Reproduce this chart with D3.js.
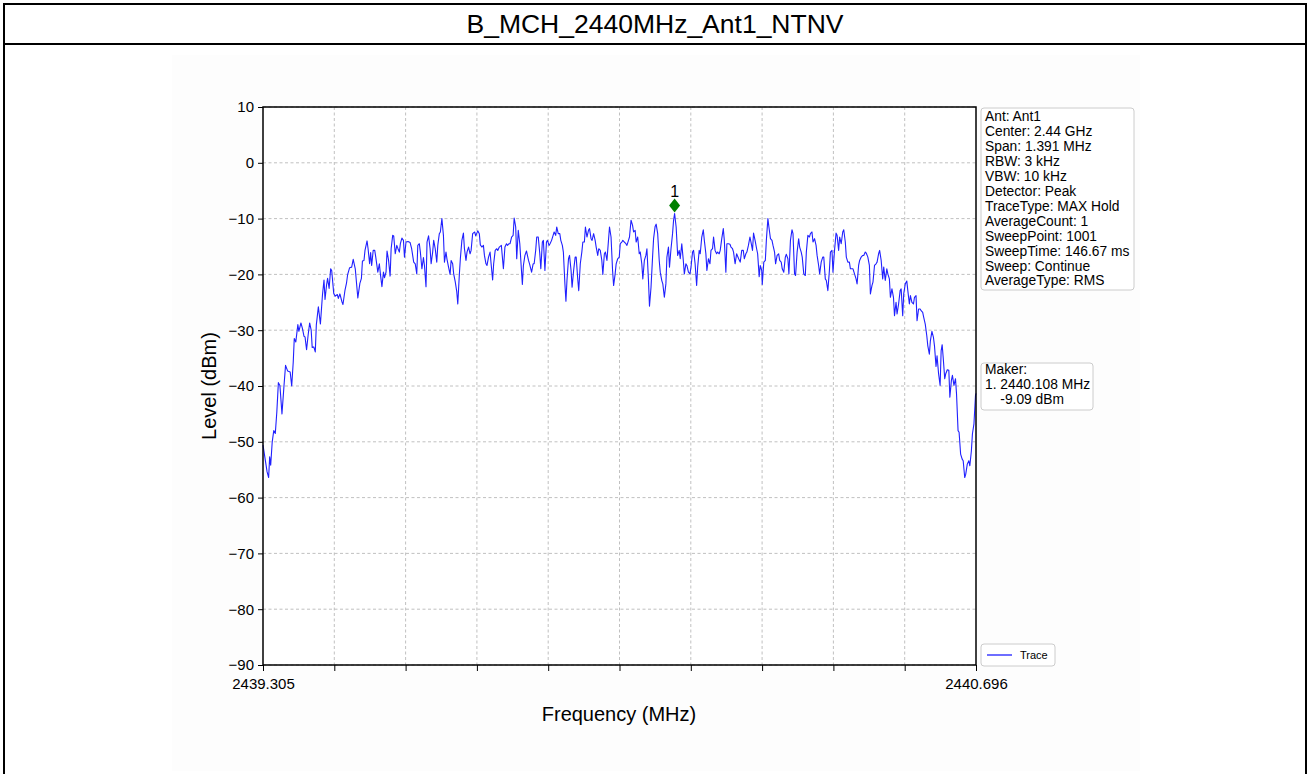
<!DOCTYPE html>
<html><head><meta charset="utf-8">
<script src="https://cdn.jsdelivr.net/npm/d3@7"></script>
<style>
body{margin:0;background:#fff;}
svg{display:block;font-family:"Liberation Sans",Arial,Helvetica,sans-serif;}
</style>
</head><body>
<svg id="chart" width="1310" height="774"></svg>
<script>
// ---------- data ----------
const chartTitle = "B_MCH_2440MHz_Ant1_NTNV";
const startMHz = 2439.305;
const stopMHz = 2440.696;
const xTickCount = 11;                 // tick marks along the frequency axis
const xTickLabels = ["2439.305", "2440.696"];
const yTicks = [10, 0, -10, -20, -30, -40, -50, -60, -70, -80, -90];
const yDomain = [-90, 10];
const xLabel = "Frequency (MHz)";
const yLabel = "Level (dBm)";

// trace vertices: [offset from start (kHz), level (dBm)]
const trace = [
[0,-50.6],[5,-53.6],[8,-55.4],[11,-56.4],[13,-52.7],[15,-54.2],[18,-50.0],[21,-48.0],[24,-48.5],[27,-44.6],
[30,-39.4],[33,-39.9],[37,-45.0],[41,-39.9],[44,-36.3],[48,-37.3],[53,-37.5],[56,-40.0],[59,-35.7],[61,-31.5],
[64,-32.1],[68,-29.0],[70,-30.2],[74,-28.7],[77,-29.7],[80,-31.1],[82,-31.2],[85,-33.5],[88,-30.9],[91,-28.7],
[94,-30.0],[96,-33.1],[99,-33.0],[102,-33.9],[104,-29.1],[108,-25.8],[112,-28.9],[116,-23.7],[119,-21.0],[121,-24.5],
[124,-21.9],[126,-20.7],[129,-22.5],[132,-19.0],[134,-19.3],[138,-23.4],[141,-23.9],[145,-23.6],[147,-24.3],[150,-23.5],
[154,-24.9],[156,-25.4],[160,-22.8],[163,-21.5],[165,-20.1],[169,-18.8],[173,-18.7],[176,-17.3],[180,-19.0],[185,-24.2],
[189,-21.6],[192,-20.7],[194,-17.6],[197,-17.5],[199,-15.7],[203,-14.0],[205,-15.4],[208,-18.1],[210,-16.1],[212,-18.4],
[215,-15.7],[218,-15.7],[220,-16.9],[224,-19.6],[227,-18.1],[229,-19.9],[232,-22.2],[235,-19.6],[237,-20.6],[240,-19.6],
[242,-15.8],[245,-17.5],[248,-20.3],[250,-15.4],[253,-13.0],[255,-13.1],[258,-16.3],[261,-14.8],[263,-15.3],[266,-16.0],
[268,-14.5],[271,-13.5],[274,-13.9],[276,-16.9],[279,-14.2],[283,-14.1],[287,-14.3],[290,-15.4],[294,-17.8],[297,-18.1],
[300,-19.9],[302,-14.8],[305,-14.5],[307,-16.0],[310,-19.0],[313,-17.0],[315,-18.4],[318,-22.2],[320,-14.2],[323,-13.1],
[326,-15.4],[328,-18.1],[331,-16.0],[333,-13.9],[336,-15.4],[339,-17.8],[341,-14.8],[344,-12.7],[346,-12.4],[349,-10.0],
[352,-13.0],[354,-17.8],[357,-16.0],[359,-17.3],[362,-18.7],[365,-20.0],[367,-17.5],[370,-18.1],[372,-19.9],[375,-21.3],
[378,-23.1],[380,-25.3],[383,-20.1],[385,-17.2],[388,-13.9],[391,-12.6],[393,-15.4],[396,-17.5],[398,-16.0],[401,-15.1],
[404,-16.3],[406,-15.7],[409,-12.7],[413,-12.4],[415,-13.1],[419,-12.2],[422,-12.7],[424,-14.7],[427,-15.1],[430,-14.8],
[432,-16.6],[435,-18.1],[437,-18.4],[440,-16.9],[443,-16.0],[445,-18.1],[448,-21.0],[450,-18.1],[453,-15.7],[456,-15.4],
[458,-15.7],[461,-15.1],[465,-14.8],[469,-19.0],[472,-15.1],[475,-14.5],[477,-14.8],[480,-14.5],[482,-14.5],[485,-13.3],
[488,-13.0],[490,-9.9],[493,-11.5],[495,-17.2],[498,-12.1],[501,-14.5],[503,-17.5],[506,-21.8],[508,-18.4],[511,-16.6],
[514,-15.8],[518,-17.5],[520,-18.1],[524,-19.6],[527,-18.1],[529,-18.1],[532,-15.7],[534,-13.3],[537,-13.3],[540,-16.3],
[542,-19.0],[545,-14.2],[547,-13.9],[550,-19.3],[553,-14.2],[555,-13.9],[558,-14.8],[560,-14.5],[563,-13.9],[566,-13.0],
[568,-12.4],[571,-13.0],[573,-11.5],[576,-12.7],[579,-12.7],[581,-13.9],[584,-14.8],[586,-16.0],[589,-21.7],[591,-24.8],
[593,-21.1],[596,-17.2],[598,-16.6],[601,-19.3],[603,-22.3],[606,-19.3],[609,-16.9],[611,-16.9],[614,-20.8],[616,-22.9],
[619,-18.1],[622,-16.0],[624,-14.2],[627,-14.2],[629,-11.5],[632,-13.3],[635,-12.1],[637,-11.8],[640,-13.6],[642,-13.9],
[645,-12.7],[648,-13.9],[650,-15.1],[653,-16.6],[655,-15.4],[658,-15.7],[661,-17.5],[663,-20.0],[666,-16.3],[668,-16.0],
[671,-17.5],[674,-13.9],[676,-11.5],[679,-13.3],[682,-19.3],[684,-22.0],[687,-19.9],[689,-18.1],[692,-17.2],[695,-16.9],
[697,-14.5],[700,-14.2],[702,-13.9],[705,-14.2],[708,-14.5],[710,-14.8],[713,-13.9],[715,-13.3],[718,-10.3],[721,-11.2],
[723,-12.4],[726,-12.1],[728,-14.2],[731,-13.3],[734,-16.3],[736,-16.0],[739,-18.1],[741,-20.8],[744,-17.5],[747,-16.6],
[749,-15.4],[752,-21.1],[754,-25.7],[757,-22.3],[760,-16.9],[762,-13.6],[765,-11.4],[767,-11.0],[770,-12.7],[773,-17.5],
[775,-19.6],[778,-21.1],[780,-21.7],[783,-24.1],[786,-21.7],[788,-16.9],[791,-15.1],[793,-18.7],[796,-15.4],[799,-12.7],
[801,-10.3],[803,-9.09],[806,-11.5],[809,-16.6],[812,-15.7],[814,-17.2],[817,-14.5],[820,-17.5],[822,-19.9],[825,-18.1],
[827,-18.4],[830,-19.6],[833,-19.9],[835,-18.7],[838,-16.0],[840,-15.7],[843,-18.1],[846,-22.0],[848,-18.7],[851,-15.7],
[853,-16.3],[856,-13.3],[859,-12.0],[861,-13.9],[864,-16.3],[866,-19.3],[869,-17.2],[872,-18.1],[874,-15.7],[877,-15.4],
[879,-13.3],[882,-15.7],[885,-16.3],[887,-16.0],[890,-16.3],[892,-15.7],[895,-13.6],[898,-11.8],[900,-13.9],[903,-19.6],
[905,-14.5],[908,-14.5],[911,-14.6],[913,-15.1],[916,-15.4],[918,-16.0],[921,-18.1],[924,-16.3],[928,-17.2],[931,-17.8],
[934,-15.7],[937,-15.7],[939,-17.2],[942,-16.3],[944,-16.0],[947,-14.8],[950,-13.3],[952,-14.2],[955,-15.7],[957,-12.6],
[960,-13.9],[963,-15.4],[965,-16.3],[968,-20.4],[970,-18.4],[973,-19.3],[974,-21.8],[977,-17.8],[980,-17.5],[982,-13.9],
[985,-10.0],[987,-11.5],[990,-13.6],[993,-13.9],[995,-14.8],[998,-16.0],[1000,-18.1],[1003,-16.6],[1006,-16.3],[1008,-17.5],
[1011,-17.8],[1013,-19.0],[1016,-19.6],[1019,-16.9],[1021,-16.4],[1024,-17.2],[1026,-19.9],[1029,-13.9],[1032,-12.0],[1034,-12.7],
[1037,-19.9],[1039,-20.2],[1042,-16.0],[1045,-13.6],[1047,-15.1],[1050,-16.0],[1052,-16.9],[1055,-19.9],[1058,-20.2],[1060,-16.0],
[1063,-13.0],[1066,-13.3],[1068,-12.7],[1071,-12.4],[1073,-14.2],[1076,-13.6],[1079,-14.8],[1081,-16.6],[1084,-18.4],[1086,-19.9],
[1089,-17.8],[1092,-16.9],[1094,-16.9],[1097,-20.8],[1099,-21.1],[1102,-22.9],[1105,-19.3],[1107,-16.0],[1110,-15.7],[1112,-19.6],
[1115,-15.7],[1118,-12.6],[1120,-13.0],[1123,-15.7],[1125,-13.3],[1128,-14.5],[1131,-12.4],[1133,-12.0],[1136,-14.2],[1138,-16.9],
[1141,-17.8],[1144,-17.8],[1146,-19.0],[1149,-19.0],[1151,-19.0],[1154,-19.9],[1157,-20.8],[1159,-21.7],[1162,-18.4],[1164,-17.5],
[1167,-16.9],[1170,-16.6],[1172,-16.6],[1175,-16.0],[1177,-16.2],[1180,-16.9],[1183,-18.4],[1185,-23.5],[1188,-22.0],[1190,-21.4],
[1193,-18.4],[1196,-18.1],[1198,-17.8],[1201,-16.3],[1203,-15.7],[1206,-17.5],[1209,-20.8],[1211,-18.7],[1214,-21.1],[1217,-19.0],
[1219,-19.9],[1222,-20.8],[1224,-24.1],[1227,-22.6],[1230,-24.1],[1232,-27.4],[1235,-25.0],[1237,-27.1],[1240,-25.3],[1243,-22.9],
[1245,-22.6],[1248,-27.4],[1250,-23.5],[1253,-21.7],[1256,-21.2],[1258,-22.9],[1261,-25.3],[1263,-23.8],[1266,-25.0],[1269,-25.3],
[1271,-24.1],[1274,-23.8],[1276,-28.3],[1279,-26.2],[1282,-26.2],[1284,-26.5],[1287,-26.8],[1289,-27.7],[1292,-28.9],[1295,-31.0],
[1297,-32.8],[1300,-34.3],[1302,-31.9],[1305,-30.2],[1308,-31.3],[1310,-32.8],[1313,-36.5],[1315,-34.6],[1318,-37.8],[1321,-39.9],
[1323,-33.7],[1325,-32.6],[1327,-34.9],[1330,-38.7],[1332,-37.8],[1335,-37.1],[1338,-37.2],[1340,-42.0],[1343,-39.0],[1345,-38.1],
[1348,-39.9],[1351,-38.7],[1353,-41.4],[1356,-48.0],[1358,-48.3],[1361,-52.2],[1364,-53.1],[1366,-53.4],[1369,-56.4],[1371,-55.8],
[1374,-54.0],[1377,-53.4],[1379,-54.3],[1382,-51.6],[1384,-48.6],[1387,-46.8],[1390,-41.7],[1391,-41.3]
];

const markerLabel = "1";
const markerFreqMHz = 2440.108;
const markerLevel = -9.09;

const infoLines = ["Ant: Ant1","Center: 2.44 GHz","Span: 1.391 MHz","RBW: 3 kHz","VBW: 10 kHz","Detector: Peak",
  "TraceType: MAX Hold","AverageCount: 1","SweepPoint: 1001","SweepTime: 146.67 ms","Sweep: Continue","AverageType: RMS"];
const markerLines = ["Maker:","1. 2440.108 MHz","    -9.09 dBm"];
const legendLabel = "Trace";

// ---------- layout ----------
const W = 1310, H = 774;
const plot = {left: 263, right: 976, top: 107, bottom: 665};
const svg = d3.select("#chart");

// outer frame + title band
svg.append("rect").attr("x", 172).attr("y", 55).attr("width", 968).attr("height", 716).attr("fill", "#fdfdfd");
svg.append("rect").attr("x", plot.left).attr("y", plot.top).attr("width", plot.right - plot.left)
  .attr("height", plot.bottom - plot.top).attr("fill", "#fff");
const frame = svg.append("g").attr("stroke", "#000").attr("stroke-width", 2).attr("fill", "none");
frame.append("line").attr("x1", 3).attr("x2", 1307).attr("y1", 4).attr("y2", 4);
frame.append("line").attr("x1", 3).attr("x2", 1307).attr("y1", 44).attr("y2", 44);
frame.append("line").attr("x1", 4).attr("x2", 4).attr("y1", 3).attr("y2", H);
frame.append("line").attr("x1", 1306).attr("x2", 1306).attr("y1", 3).attr("y2", H);

svg.append("text").attr("x", 655).attr("y", 33).attr("text-anchor", "middle")
  .attr("font-size", 26.5).attr("fill", "#000").text(chartTitle);

// scales
const x = d3.scaleLinear().domain([startMHz, stopMHz]).range([plot.left, plot.right]);
const y = d3.scaleLinear().domain(yDomain).range([plot.bottom, plot.top]);
const xTickValues = d3.range(xTickCount).map(i => startMHz + i * (stopMHz - startMHz) / (xTickCount - 1));

// grid
const grid = svg.append("g").attr("stroke", "#b0b0b0").attr("stroke-width", 0.8).attr("stroke-dasharray", "3,2.5");
grid.selectAll(".gx").data(xTickValues.slice(1, -1)).join("line")
  .attr("x1", d => x(d)).attr("x2", d => x(d)).attr("y1", plot.top).attr("y2", plot.bottom);
grid.selectAll(".gy").data(yTicks).join("line")
  .attr("x1", plot.left).attr("x2", plot.right).attr("y1", d => y(d)).attr("y2", d => y(d));

// trace
const line = d3.line().x(d => x(startMHz + d[0] / 1000)).y(d => y(d[1]));
svg.append("path").datum(trace).attr("d", line).attr("fill", "none")
  .attr("stroke", "#2020ff").attr("stroke-width", 1.1).attr("stroke-linejoin", "round");

// axes
const fmtMinus = v => String(v).replace("-", "\u2212");
const yAxis = d3.axisLeft(y).tickValues(yTicks).tickSize(5).tickPadding(4).tickFormat(fmtMinus);
const gy = svg.append("g").attr("transform", `translate(${plot.left},0)`).call(yAxis);
gy.select(".domain").remove();
gy.selectAll("text").attr("font-size", 15).attr("font-family", "Liberation Sans, Arial, sans-serif").attr("fill", "#000");
gy.selectAll("line").attr("stroke", "#000");

const xAxis = d3.axisBottom(x).tickValues(xTickValues).tickSize(6).tickPadding(7)
  .tickFormat((d, i) => i === 0 ? xTickLabels[0] : (i === xTickCount - 1 ? xTickLabels[1] : ""));
const gx = svg.append("g").attr("transform", `translate(0,${plot.bottom})`).call(xAxis);
gx.select(".domain").remove();
gx.selectAll("text").attr("font-size", 15).attr("font-family", "Liberation Sans, Arial, sans-serif").attr("fill", "#000");
gx.selectAll("line").attr("stroke", "#000");

// spines
const spines = svg.append("g").attr("stroke", "#000").attr("stroke-width", 1.5).attr("fill", "none");
spines.append("rect").attr("x", plot.left).attr("y", plot.top)
  .attr("width", plot.right - plot.left).attr("height", plot.bottom - plot.top);

// axis labels
svg.append("text").attr("x", (plot.left + plot.right) / 2 - 0.5).attr("y", 721).attr("text-anchor", "middle")
  .attr("font-size", 20).attr("fill", "#000").text(xLabel);
svg.append("text").attr("transform", `translate(216,${(plot.top + plot.bottom) / 2}) rotate(-90)`)
  .attr("text-anchor", "middle").attr("font-size", 20).attr("fill", "#000").text(yLabel);

// marker (thin diamond drawn just above the peak)
const mx = x(markerFreqMHz), my = y(markerLevel) - 8;
const dw = 5.5, dh = 7;
svg.append("path").attr("d", `M0,${-dh}L${dw},0L0,${dh}L${-dw},0Z`)
  .attr("transform", `translate(${mx},${my})`).attr("fill", "#008000");
svg.append("text").attr("x", mx).attr("y", my - 9).attr("text-anchor", "middle")
  .attr("font-size", 16).attr("fill", "#000").text(markerLabel);

// info box
function textBox(lines, bx, by, bw, bh, fs, lh, firstBase) {
  svg.append("rect").attr("x", bx).attr("y", by).attr("width", bw).attr("height", bh)
    .attr("rx", 3).attr("fill", "#fff").attr("stroke", "#cccccc").attr("stroke-width", 1);
  const t = svg.append("text").attr("font-size", fs).attr("fill", "#000").style("white-space", "pre");
  lines.forEach((l, i) => t.append("tspan").attr("x", bx + 4).attr("y", firstBase + i * lh).text(l));
}
textBox(infoLines, 981, 108, 153, 182, 13.8, 14.95, 121);
textBox(markerLines, 981, 363, 112, 47, 13.8, 14.95, 374);

// legend
svg.append("rect").attr("x", 981).attr("y", 644).attr("width", 74).attr("height", 22)
  .attr("rx", 3).attr("fill", "#fff").attr("stroke", "#cccccc");
svg.append("line").attr("x1", 987).attr("x2", 1012).attr("y1", 655).attr("y2", 655)
  .attr("stroke", "#2020ff").attr("stroke-width", 1.3);
svg.append("text").attr("x", 1020).attr("y", 659).attr("font-size", 11).attr("fill", "#000").text(legendLabel);
</script>
</body></html>
